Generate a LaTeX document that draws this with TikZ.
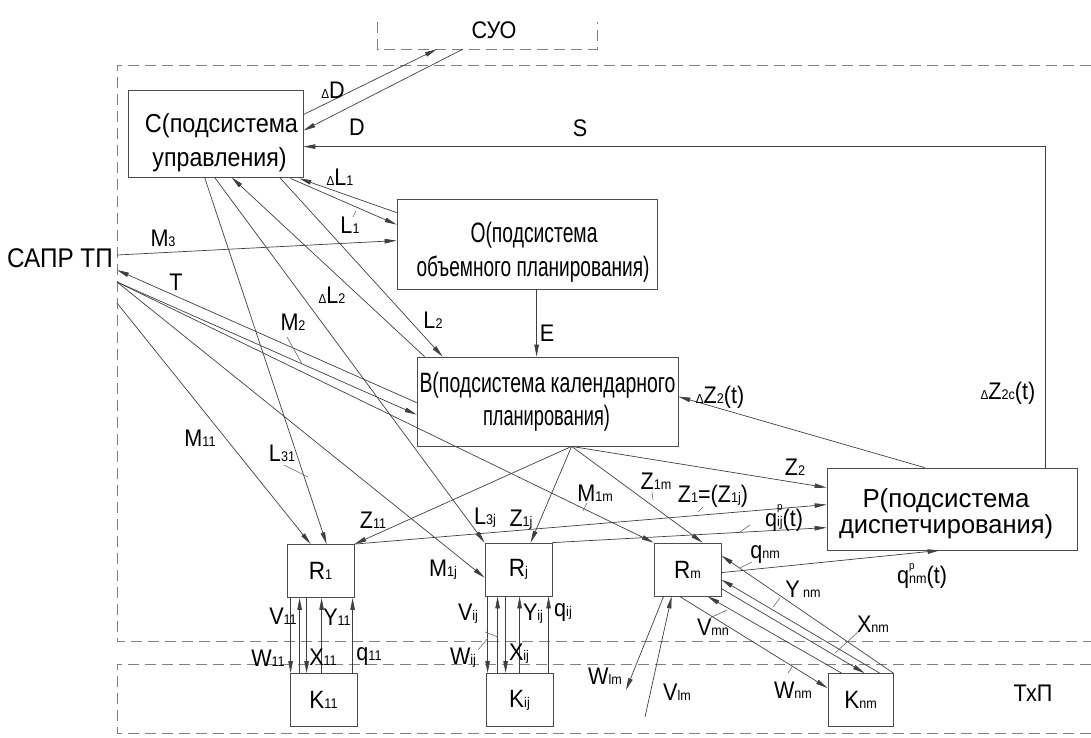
\documentclass[tikz,border=0pt]{standalone}
\usepackage{graphicx}
\usepackage{fontspec}
\setmainfont[FakeStretch=0.9]{Liberation Sans}
\usetikzlibrary{arrows.meta,calc}

% small index at the baseline, small delta, p-index stacked over a lower index
\newcommand\lo[1]{{\fontsize{14}{14}\selectfont #1}}
\newcommand\dl{{\fontsize{13}{13}\selectfont Δ}}
\newcommand\pp[1]{{\fontsize{11}{11}\selectfont\begin{tabular}[b]{@{}l@{}}p\\[3pt]\lo{#1}\end{tabular}}}
% one line of box text set to a given width
\newcommand\fitw[2]{\resizebox{#1}{\height}{#2}}

\tikzset{
  box/.style={draw=black!70, line width=0.8pt, inner sep=0pt},
  btxt/.style={inner sep=0pt, anchor=base, font=\fontsize{26}{26}\selectfont},
  btxtl/.style={btxt, font=\fontsize{28}{28}\selectfont},
  rbox/.style={draw=black!70, line width=0.8pt, inner sep=0pt,
    minimum width=67pt, minimum height=53pt, font=\fontsize{25}{25}\selectfont},
  lbl/.style={inner sep=0pt, font=\fontsize{24}{24}\selectfont},
  con/.style={draw=black!75, line width=0.7pt},
  arr/.style={con, -{Triangle[length=12pt,width=4.5pt]}},
  sysline/.style={draw=black!50, line width=0.8pt, dash pattern=on 11pt off 6pt},
  lead/.style={draw=black!60, line width=0.6pt}
}

\begin{document}
\begin{tikzpicture}[x=1pt,y=-1pt]
\useasboundingbox (0,0) rectangle (1091,737);

% system boundaries
\draw[sysline] (1091,65) -- (117,65) -- (117,641) -- (1091,641);
\draw[sysline] (1091,664) -- (117,664) -- (117,733) -- (1091,733);

% upper level
\node[inner sep=0pt, minimum width=219pt, minimum height=27pt] (SUO) at (487.5,35.5) {};
\draw[sysline] (SUO.north west) -- (SUO.south west) -- (SUO.south east) -- (SUO.north east);
\node[lbl, font=\fontsize{24}{24}\selectfont] (SUOt) at (494,30) {СУО};
\node[lbl, font=\fontsize{27}{27}\selectfont, anchor=east] (SAPR) at (113,258) {САПР ТП};

% subsystems
\node[box, minimum width=175pt, minimum height=87pt] (C) at (215.5,133.5) {};
\node[btxt] (Ct1) at ($(C.north)+(6,43)$) {\fitw{153pt}{С(подсистема}};
\node[btxt] (Ct2) at ($(C.north)+(4,77)$) {\fitw{134pt}{управления)}};
\node[box, minimum width=260pt, minimum height=90pt] (O) at (527,244) {};
\node[btxtl] (Ot1) at ($(O.north)+(7,44)$) {\fitw{127pt}{О(подсистема}};
\node[btxtl] (Ot2) at ($(O.north)+(6,78)$) {\fitw{233pt}{объемного планирования)}};
\node[box, minimum width=261pt, minimum height=89pt] (B) at (547.5,401.5) {};
\node[btxtl] (Bt1) at ($(B.north)+(0,36)$) {\fitw{256pt}{В(подсистема календарного}};
\node[btxtl] (Bt2) at ($(B.north)+(-1,69)$) {\fitw{127pt}{планирования)}};
\node[box, minimum width=250pt, minimum height=82pt] (P) at (952,509) {};
\node[btxt] (Pt1) at ($(P.north)+(-6,40)$) {\fitw{167pt}{Р(подсистема}};
\node[btxt] (Pt2) at ($(P.north)+(-6,66)$) {\fitw{214pt}{диспетчирования)}};

% shop units and process objects
\node[rbox] (R1) at (320.5,571) {R\lo{1}};
\node[rbox] (Rj) at (518.5,569.5) {R\lo{j}};
\node[rbox] (Rm) at (687.5,569.5) {R\lo{m}};
\node[rbox] (K11) at (323.5,700) {K\lo{11}};
\node[rbox] (Kij) at (519.5,700) {K\lo{ij}};
\node[rbox, minimum width=65pt] (Knm) at (860.5,700) {K\lo{nm}};

% links of the control subsystem
\draw[arr] ($(C.north east)+(0,25)$) -- ($(SUO.south west)+(59,0)$);
\draw[arr] ($(SUO.south west)+(85,0)$) -- ($(C.north east)+(0,41)$);
\draw[arr] ($(P.north west)+(219,0)$) |- ($(C.north east)+(0,57)$);
\draw[arr] ($(O.north west)+(0,14)$) -- ($(C.south east)+(-4,1)$);
\draw[arr] ($(C.south east)+(-13,1)$) -- ($(O.north west)+(0,26)$);
\draw[arr] ($(B.north west)+(8,0)$) -- ($(C.south west)+(104,0)$);
\draw[arr] ($(C.south west)+(152,0)$) -- ($(B.north west)+(26,0)$);
\draw[arr] ($(C.south west)+(77,0)$) -- ($(R1.north west)+(40,0)$);
\draw[arr] ($(C.south west)+(87,0)$) -- (Rj.north west);

% links of the CAD system
\draw[arr] ($(SAPR.east)+(4,-3)$) -- ($(O.north west)+(0,42)$);
\draw[arr] ($(B.north west)+(0,46)$) -- ($(SAPR.east)+(4,12)$);
\draw[arr] ($(SAPR.east)+(4,24)$) -- ($(B.north west)+(0,58)$);
\draw[arr] ($(SAPR.east)+(4,24)$) -- (Rm.north west);
\draw[arr] ($(SAPR.east)+(4,24)$) -- ($(Rj.north west)+(0,35)$);
\draw[arr] ($(SAPR.east)+(4,45)$) -- ($(R1.north west)+(24,0)$);

% planning and dispatching
\draw[arr] ($(O.south west)+(140,0)$) -- ($(B.north west)+(120,0)$);
\draw[arr] ($(P.north west)+(98,0)$) -- ($(B.north east)+(0,40)$);
\coordinate (bfan) at ($(B.south west)+(155,0)$);
\draw[arr] (bfan) -- (R1.north east);
\draw[arr] (bfan) -- ($(Rj.north west)+(46,0)$);
\draw[arr] (bfan) -- ($(Rm.north west)+(49,0)$);
\draw[arr] (bfan) -- ($(P.north west)+(0,20)$);
\draw[arr] (R1.north east) -- ($(P.north west)+(0,37)$);
\draw[arr] (Rj.north east) -- ($(P.north west)+(0,60)$);
\draw[arr] ($(Rm.north east)+(0,30)$) -- ($(P.south west)+(113,0)$);

% unit m and its objects
\draw[arr] (Knm.north east) -- ($(Rm.north east)+(0,13)$);
\draw[arr] ($(Knm.north west)+(52,0)$) -- ($(Rm.north east)+(0,37)$);
\draw[arr] ($(Rm.north east)+(0,46)$) -- ($(Knm.north west)+(37,0)$);
\draw[arr] ($(Knm.north west)+(14,0)$) -- ($(Rm.south west)+(54,0)$);
\draw[arr] ($(Rm.south west)+(26,0)$) -- ($(Knm.north west)+(0,15)$);
\coordinate (wlm) at (626,690);
\coordinate (vlm) at (645,717);
\draw[arr] ($(Rm.south west)+(10,0)$) -- (wlm);
\draw[arr] (vlm) -- ($(Rm.south west)+(18,0)$);

% vertical links R - K
\path ($(R1.south west)+(4,0)$) coordinate (w11) ($(R1.south west)+(13,0)$) coordinate (v11)
      ($(R1.south west)+(20,0)$) coordinate (x11) ($(R1.south west)+(35,0)$) coordinate (y11)
      ($(R1.south west)+(66,0)$) coordinate (q11);
\draw[arr] (w11) -- (w11 |- K11.north);
\draw[arr] (v11 |- K11.north) -- (v11);
\draw[arr] (x11) -- (x11 |- K11.north);
\draw[arr] (y11 |- K11.north) -- (y11);
\draw[arr] (q11 |- K11.north) -- (q11);
\path ($(Rj.south west)+(3,0)$) coordinate (wij) ($(Rj.south west)+(13,0)$) coordinate (vij)
      ($(Rj.south west)+(21,0)$) coordinate (xij) ($(Rj.south west)+(35,0)$) coordinate (yij)
      ($(Rj.south west)+(64,0)$) coordinate (qij);
\draw[arr] (wij) -- (wij |- Kij.north);
\draw[arr] (vij |- Kij.north) -- (vij);
\draw[arr] (xij) -- (xij |- Kij.north);
\draw[arr] (yij |- Kij.north) -- (yij);
\draw[arr] (qij |- Kij.north) -- (qij);

% flow labels
\node[lbl] (lDD) at (333,90) {\dl D};
\node[lbl] (lD) at (357,127) {D};
\node[lbl] (lS) at (580,128) {S};
\node[lbl] (lDL1) at (340,177) {\dl L\lo{1}};
\node[lbl] (lL1) at (350,225) {L\lo{1}};
\node[lbl] (lM3) at (163,238) {M\lo{3}};
\node[lbl] (lT) at (176,282) {T};
\node[lbl] (lDL2) at (332,295) {\dl L\lo{2}};
\node[lbl] (lL2) at (433,320) {L\lo{2}};
\node[lbl] (lM2) at (293,322) {M\lo{2}};
\node[lbl] (lE) at (547,333) {E};
\node[lbl] (lDZ2) at (720,397) {\dl Z\lo{2}(t)};
\node[lbl] (lDZ2c) at (1008,393) {\dl Z\lo{2c}(t)};
\node[lbl] (lM11) at (200,438) {M\lo{11}};
\node[lbl] (lL31) at (282,453) {L\lo{31}};
\node[lbl] (lZ11) at (373,520) {Z\lo{11}};
\node[lbl] (lL3j) at (485,518) {L\lo{3j}};
\node[lbl] (lZ1j) at (521,520) {Z\lo{1j}};
\node[lbl] (lM1j) at (443,570) {M\lo{1j}};
\node[lbl] (lM1m) at (595,493) {M\lo{1m}};
\node[lbl] (lZ1m) at (656,481) {Z\lo{1m}};
\node[lbl] (lZ2) at (795,467) {Z\lo{2}};
\node[lbl] (lZ1) at (713,496) {Z\lo{1}=(Z\lo{1j})};
\node[lbl] (lqpij) at (784,517) {q\pp{ij}(t)};
\node[lbl] (lqnm) at (765,555) {q\lo{nm}};
\node[lbl] (lqpnm) at (922,575) {q\pp{nm}(t)};
\node[lbl] (lYnm) at (803,589) {Y\lo{ nm}};
\node[lbl] (lXnm) at (873,624) {X\lo{nm}};
\node[lbl] (lVmn) at (713,627) {V\lo{mn}};
\node[lbl] (lWnm) at (793,690) {W\lo{nm}};
\node[lbl] (lWlm) at (605,676) {W\lo{lm}};
\node[lbl] (lVlm) at (677,692) {V\lo{lm}};
\node[lbl] (lV11) at (283,616) {V\lo{11}};
\node[lbl] (lY11) at (337,617) {Y\lo{11}};
\node[lbl] (lX11) at (323,657) {X\lo{11}};
\node[lbl] (lW11) at (268,658) {W\lo{11}};
\node[lbl] (lq11) at (369,657) {q\lo{11}};
\node[lbl] (lVij) at (468,614) {V\lo{ij}};
\node[lbl] (lYij) at (533,614) {Y\lo{ij}};
\node[lbl] (lqij) at (563,613) {q\lo{ij}};
\node[lbl] (lXij) at (519,654) {X\lo{ij}};
\node[lbl] (lWij) at (463,658) {W\lo{ij}};
\node[lbl] (lTxP) at (1033,693) {ТхП};

% leader ticks from labels to their lines
\draw[lead] (353,217) -- (356,211);
\draw[lead] (287,337) -- (302,364);
\draw[lead] (284,465) -- (308,477);
\draw[lead] (587,503) -- (583,511);
\draw[lead] (652,492) -- (653,500);
\draw[lead] (703,507) -- (698,512);
\draw[lead] (750,525) -- (740,532);
\draw[lead] (752,562) -- (740,568);
\draw[lead] (780,598) -- (773,607);
\draw[lead] (858,632) -- (835,653);
\draw[lead] (710,618) -- (727,610);
\draw[lead] (788,673) -- (792,667);
\draw[lead] (485,632) -- (498,637);
\draw[lead] (478,650) -- (488,638);
\end{tikzpicture}
\end{document}
